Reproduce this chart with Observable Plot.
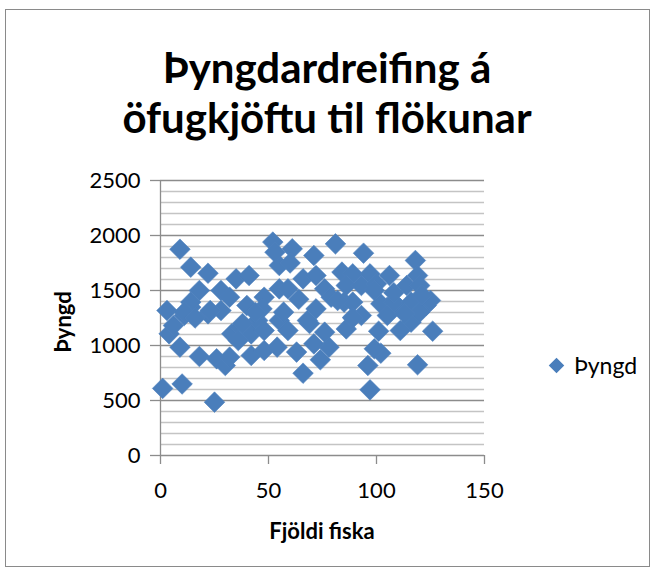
<!DOCTYPE html>
<html>
<head>
<meta charset="utf-8">
<script src="https://cdn.jsdelivr.net/npm/d3@7"></script>
<script src="https://cdn.jsdelivr.net/npm/@observablehq/plot@0.6"></script>
<style>
  html, body { margin: 0; padding: 0; background: #fff; }
  #wrap { position: relative; width: 654px; height: 573px; overflow: hidden; font-family: Lato, "Open Sans", sans-serif; }
  #frame { position: absolute; left: 5px; top: 9px; width: 645px; height: 558px; border: 1.5px solid #8a8a8a; box-sizing: border-box; }
  .title { position: absolute; left: 0; width: 654px; text-align: center; font-weight: bold; font-size: 42px; line-height: 50px; height: 50px; color: #000; white-space: nowrap; }
  #t1 { top: 42px; }
  #t2 { top: 92px; }
  #chart { position: absolute; left: 0; top: 0; }
  .lab { position: absolute; font-weight: bold; font-size: 22px; color: #000; white-space: nowrap; }
  #xlab { left: 0; width: 644px; text-align: center; top: 517px; }
  #ylab { left: 62px; top: 322px; transform: translate(-50%, -50%) rotate(-90deg); }
  #legend { position: absolute; left: 547px; top: 351px; display: flex; align-items: center; font-size: 23px; }
  #legend .sw { width: 11px; height: 11px; background: #4a7ebb; transform: rotate(45deg); margin-right: 12px; margin-left: 4px; }
</style>
</head>
<body>
<div id="wrap">
  <div id="frame"></div>
  <div id="chart"></div>
  <div class="title" id="t1">Þyngdardreifing á</div>
  <div class="title" id="t2">öfugkjöftu til flökunar</div>
  <div class="lab" id="xlab">Fjöldi fiska</div>
  <div class="lab" id="ylab">Þyngd</div>
  <div id="legend"><div class="sw"></div><span>Þyngd</span></div>
</div>
<script>
const seriesName = "Þyngd";
const xTicks = [0, 50, 100, 150];
const yTicks = [0, 500, 1000, 1500, 2000, 2500];

const fjoldi = [1, 10, 25, 9, 14, 22, 52, 61, 55, 71, 81, 94, 118, 126, 119, 97, 96, 102, 99, 101,
  74, 78, 76, 66, 63, 86, 89, 69, 116, 123, 111, 105, 3, 4, 9, 18, 26, 30, 32, 33,
  42, 48, 54, 6, 11, 14, 22, 28, 37, 42, 45, 55, 59, 68, 71, 18, 14, 28, 35, 41,
  32, 40, 48, 55, 59, 66, 47, 57, 23, 11, 84, 89, 97, 106, 119, 72, 76, 86, 93, 100,
  114, 120, 125, 79, 85, 89, 102, 108, 116, 105, 120, 72, 93, 53, 82, 60, 48, 36, 111, 89,
  113, 64, 38, 16, 44, 108, 121, 99];
const thyngd = [610, 650, 485, 1875, 1712, 1657, 1940, 1879, 1727, 1818, 1924, 1839, 1773, 1130, 825, 597, 818, 930, 970, 1130,
  870, 985, 1121, 748, 940, 1151, 1257, 1200, 1212, 1364, 1336, 1348, 1318, 1106, 985, 900, 879, 818, 894, 1106,
  909, 955, 985, 1182, 1273, 1348, 1288, 1318, 1166, 1106, 1227, 1227, 1136, 1227, 1015, 1500, 1394, 1500, 1606, 1636,
  1439, 1364, 1439, 1515, 1515, 1606, 1333, 1303, 1318, 1303, 1667, 1651, 1651, 1636, 1636, 1636, 1515, 1545, 1545, 1561,
  1545, 1545, 1409, 1439, 1394, 1394, 1379, 1394, 1394, 1273, 1303, 1333, 1273, 1848, 1409, 1750, 1136, 1045, 1136, 1250,
  1290, 1420, 1200, 1250, 1300, 1480, 1460, 1500];

const data = fjoldi.map((x, i) => ({x, y: thyngd[i]}));
const minor = d3.range(100, 2501, 100).filter(v => v % 500 !== 0);
const major = [500, 1000, 1500, 2000, 2500];

const chart = Plot.plot({
  width: 654,
  height: 573,
  marginLeft: 160,
  marginRight: 170,
  marginTop: 180,
  marginBottom: 118,
  style: { fontFamily: "Lato, 'Open Sans', sans-serif", fontSize: "22px", color: "#000", background: "transparent" },
  x: { domain: [0, 150] },
  y: { domain: [0, 2500] },
  marks: [
    Plot.ruleY(minor, { stroke: "#c4c4c4", strokeWidth: 1.3 }),
    Plot.ruleY(major, { stroke: "#8c8c8c", strokeWidth: 1.3 }),
    Plot.ruleX([0], { y1: 0, y2: 2500, stroke: "#8c8c8c", strokeWidth: 1.3 }),
    Plot.ruleY([0], { stroke: "#8c8c8c", strokeWidth: 1.3 }),
    Plot.axisY({ ticks: yTicks, tickFormat: d => String(d), tickSize: 10, tickPadding: 10, stroke: "#8c8c8c", strokeWidth: 1.3, strokeOpacity: 1, label: null, fontSize: 22 }),
    Plot.axisX({ ticks: xTicks, tickFormat: d => String(d), tickSize: 9, tickPadding: 18, stroke: "#8c8c8c", strokeWidth: 1.3, strokeOpacity: 1, label: null, fontSize: 22 }),
    Plot.dot(data, { x: "x", y: "y", symbol: "diamond2", r: 9.3, fill: "#4a7ebb", stroke: "#4f81bd", strokeWidth: 0.6, title: d => seriesName })
  ]
});
document.getElementById("chart").appendChild(chart);
</script>
</body>
</html>
